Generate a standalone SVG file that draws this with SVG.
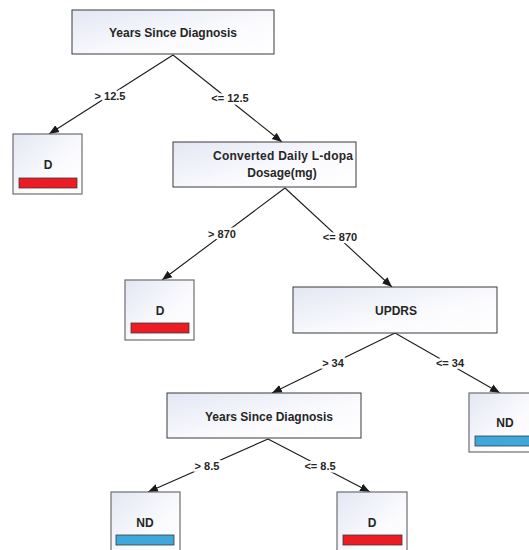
<svg xmlns="http://www.w3.org/2000/svg" width="529" height="550" viewBox="0 0 529 550">
<defs>
<linearGradient id="g" x1="0" y1="0" x2="1" y2="1">
<stop offset="0" stop-color="#e3e7f3"/>
<stop offset="0.6" stop-color="#fbfbfe"/>
<stop offset="1" stop-color="#ffffff"/>
</linearGradient>
<marker id="ah" viewBox="0 0 10 10" refX="10" refY="5" markerWidth="10" markerHeight="10" markerUnits="userSpaceOnUse" orient="auto">
<path d="M0,1 L10,5 L0,9 z" fill="#1a1a1a"/>
</marker>
<style>
.box{fill:url(#g);stroke:#3a3a3a;stroke-width:1}
.leaf{fill:url(#g);stroke:#6e6e6e;stroke-width:1.2}
.red{fill:#ed1c24;stroke:#3a3a3a;stroke-width:0.8}
.blue{fill:#3ea8dc;stroke:#3a3a3a;stroke-width:0.8}
text{font-family:"Liberation Sans",Arial,sans-serif;font-weight:bold;fill:#262626;text-anchor:middle}
.t{font-size:12px}
.l{font-size:12px}
.lab{font-size:11px;paint-order:stroke;stroke:#ffffff;stroke-width:5px;stroke-linejoin:round}
.edge{stroke:#1a1a1a;stroke-width:1.1;fill:none;marker-end:url(#ah)}
</style>
</defs>
<rect width="529" height="550" fill="#ffffff"/>
<g id="connectors">
<line class="edge" x1="173" y1="55" x2="49" y2="134"/>
<line class="edge" x1="173" y1="55" x2="282" y2="142"/>
<line class="edge" x1="285" y1="188" x2="162" y2="280"/>
<line class="edge" x1="285" y1="188" x2="392" y2="287"/>
<line class="edge" x1="395" y1="333" x2="272" y2="393"/>
<line class="edge" x1="395" y1="333" x2="500" y2="393"/>
<line class="edge" x1="268" y1="439" x2="148" y2="492"/>
<line class="edge" x1="268" y1="439" x2="370" y2="492"/>
<text class="lab" x="110" y="100">&gt; 12.5</text>
<text class="lab" x="230" y="102">&lt;= 12.5</text>
<text class="lab" x="222" y="238">&gt; 870</text>
<text class="lab" x="340" y="241">&lt;= 870</text>
<text class="lab" x="333" y="367">&gt; 34</text>
<text class="lab" x="450" y="367">&lt;= 34</text>
<text class="lab" x="207" y="470">&gt; 8.5</text>
<text class="lab" x="320" y="470">&lt;= 8.5</text>
</g>
<g id="n1">
<rect class="box" x="72" y="10" width="202" height="44"/>
<text class="t" x="173" y="37">Years Since Diagnosis</text>
</g>
<g id="n2">
<rect class="leaf" x="13" y="134" width="69" height="60"/>
<text class="l" x="48" y="169">D</text>
<rect class="red" x="19" y="178" width="58" height="10"/>
</g>
<g id="n3">
<rect class="box" x="173" y="142" width="183" height="45"/>
<text class="t" x="283" y="160" textLength="140">Converted Daily L-dopa</text>
<text class="t" x="282" y="177">Dosage(mg)</text>
</g>
<g id="n4">
<rect class="leaf" x="125" y="280" width="69" height="60"/>
<text class="l" x="160" y="315">D</text>
<rect class="red" x="131" y="323" width="58" height="10"/>
</g>
<g id="n5">
<rect class="box" x="293" y="287" width="204" height="46"/>
<text class="t" x="396" y="315">UPDRS</text>
</g>
<g id="n6">
<rect class="leaf" x="469" y="393" width="62" height="59"/>
<text class="l" x="505" y="427">ND</text>
<rect class="blue" x="475" y="436" width="56" height="10"/>
</g>
<g id="n7">
<rect class="box" x="167" y="393" width="194" height="45"/>
<text class="t" x="269" y="421">Years Since Diagnosis</text>
</g>
<g id="n8">
<rect class="leaf" x="111" y="492" width="69" height="64"/>
<text class="l" x="145" y="527">ND</text>
<rect class="blue" x="116" y="535" width="58" height="10"/>
</g>
<g id="n9">
<rect class="leaf" x="337" y="492" width="70" height="64"/>
<text class="l" x="372" y="527">D</text>
<rect class="red" x="343" y="535" width="59" height="10"/>
</g>
</svg>
